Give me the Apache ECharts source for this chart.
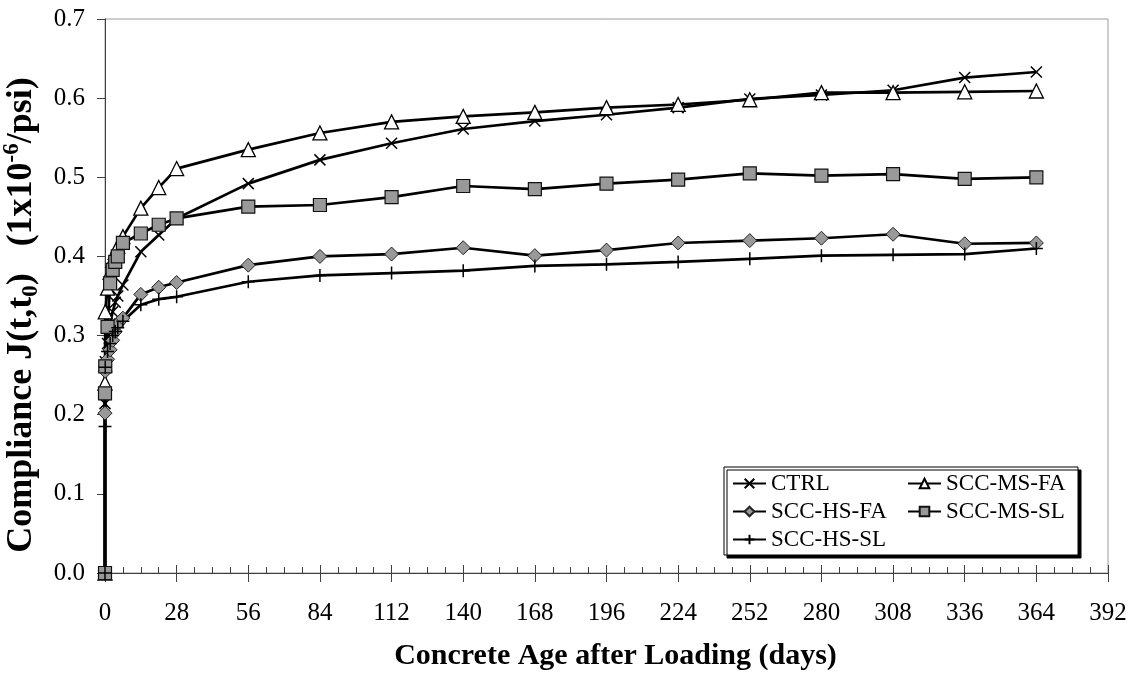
<!DOCTYPE html>
<html>
<head>
<meta charset="utf-8">
<script src="https://cdn.jsdelivr.net/npm/echarts@6/dist/echarts.min.js"></script>
<style>
  html, body { margin: 0; padding: 0; background: #fff; }
  #chart { width: 1141px; height: 683px; }
</style>
</head>
<body>
<div id="chart"></div>
<script>
// Age after loading (days) at each reading
const days = [0, 0, 0.1, 1, 2, 3, 4, 5, 7, 14, 21, 28, 56, 84, 112, 140, 168, 196, 224, 252, 280, 308, 336, 364];

// Compliance J(t,t0), 1e-6 / psi
const ctrl    = [0, 0.214, 0.267, 0.290, 0.315, 0.330, 0.342, 0.350, 0.364, 0.406, 0.427, 0.448, 0.492, 0.522, 0.543, 0.561, 0.571, 0.579, 0.588, 0.599, 0.604, 0.610, 0.626, 0.633];
const sccMsFa = [0, 0.240, 0.330, 0.360, 0.380, 0.395, 0.405, 0.413, 0.425, 0.461, 0.487, 0.511, 0.535, 0.556, 0.570, 0.577, 0.582, 0.588, 0.592, 0.598, 0.607, 0.607, 0.608, 0.609];
const sccHsFa = [0, 0.202, 0.255, 0.270, 0.282, 0.294, 0.305, 0.315, 0.322, 0.352, 0.361, 0.367, 0.389, 0.400, 0.403, 0.411, 0.401, 0.408, 0.417, 0.420, 0.423, 0.428, 0.416, 0.417];
const sccMsSl = [0, 0.227, 0.261, 0.311, 0.366, 0.383, 0.393, 0.400, 0.417, 0.429, 0.440, 0.448, 0.463, 0.465, 0.475, 0.489, 0.485, 0.492, 0.497, 0.505, 0.502, 0.504, 0.498, 0.500];
const sccHsSl = [0, 0.185, 0.260, 0.280, 0.290, 0.300, 0.305, 0.310, 0.318, 0.339, 0.346, 0.349, 0.368, 0.376, 0.379, 0.382, 0.388, 0.390, 0.393, 0.397, 0.401, 0.402, 0.403, 0.410];

const seriesNames = ['CTRL', 'SCC-MS-FA', 'SCC-HS-FA', 'SCC-MS-SL', 'SCC-HS-SL'];

const FONT = '"Liberation Serif", "Times New Roman", serif';
const AXIS_COLOR = '#404040';

const pairs = vals => days.map((d, i) => [d, vals[i]]);

const CROSS = 'path://M0,0L10,10M10,0L0,10';
const PLUS = 'path://M5,0L5,10M0,5L10,5';

function lineSeries(name, vals, symbol, size, item) {
  return {
    name: name,
    type: 'line',
    xAxisIndex: 0,
    data: pairs(vals),
    symbol: symbol,
    symbolSize: size,
    showAllSymbol: true,
    lineStyle: { color: '#000', width: 2.7 },
    itemStyle: item,
    emphasis: { disabled: true },
    animation: false
  };
}

// legend entries: left column a little wider so the right column lines up
const legendData = seriesNames.map((name, i) => ({
  name: name,
  textStyle: { width: i % 2 === 0 ? 131 : 124 }
}));

const chart = echarts.init(document.getElementById('chart'), null, { renderer: 'canvas' });

chart.setOption({
  backgroundColor: '#fff',
  animation: false,
  grid: {
    left: 105, right: 33, top: 19, bottom: 110,
    outerBoundsMode: 'none',
    containLabel: false,
    show: true, borderColor: '#9a9a9a', borderWidth: 1, backgroundColor: '#fff'
  },
  legend: {
    data: legendData,
    orient: 'horizontal',
    left: 724,
    top: 467,
    width: 360,
    padding: [5, 8, 4, 8],
    itemGap: 5,
    itemWidth: 33,
    itemHeight: 12,
    backgroundColor: '#fff',
    borderColor: '#000',
    borderWidth: 1,
    borderRadius: 0,
    shadowColor: '#000',
    shadowBlur: 0,
    shadowOffsetX: 3,
    shadowOffsetY: 3,
    selectedMode: false,
    textStyle: { fontFamily: FONT, fontSize: 23, color: '#000', width: 131, lineHeight: 23, overflow: 'truncate' }
  },
  xAxis: [
    {
      type: 'value', min: 0, max: 392, interval: 28,
      name: 'Concrete Age after Loading (days)',
      nameLocation: 'middle',
      nameGap: 68,
      nameTextStyle: { fontFamily: FONT, fontSize: 30, fontWeight: 'bold', color: '#000', padding: [0, 0, 0, 18] },
      axisLine: { show: true, onZero: false, lineStyle: { color: AXIS_COLOR, width: 1 } },
      axisTick: { show: true, inside: false, length: 9, lineStyle: { color: AXIS_COLOR, width: 1 } },
      axisLabel: { fontFamily: FONT, fontSize: 25, color: '#000', margin: 28 },
      splitLine: { show: false }
    },
    {
      // upper half of the ticks: major ticks cross the axis, minor ticks sit inside
      type: 'value', min: 0, max: 392, interval: 28, position: 'bottom',
      axisLine: { show: false },
      axisTick: { show: true, inside: true, length: 8, lineStyle: { color: AXIS_COLOR, width: 1 } },
      minorTick: { show: true, splitNumber: 4, length: 6, lineStyle: { color: AXIS_COLOR, width: 1 } },
      axisLabel: { show: false },
      splitLine: { show: false }
    }
  ],
  yAxis: {
    type: 'value', min: 0, max: 0.7, interval: 0.1,
    name: '{b|Compliance J(t,t}{sub|0}{b|)   (1x10}{sup|-6}{b|/psi)}',
    nameLocation: 'middle',
    nameRotate: 90,
    nameGap: 56,
    nameTextStyle: {
      padding: [0, 38, 0, 0],
      rich: {
        b: { fontFamily: FONT, fontSize: 36, fontWeight: 'bold', color: '#000', lineHeight: 42 },
        sub: { fontFamily: FONT, fontSize: 23, fontWeight: 'bold', color: '#000', verticalAlign: 'bottom', lineHeight: 42 },
        sup: { fontFamily: FONT, fontSize: 23, fontWeight: 'bold', color: '#000', verticalAlign: 'top', lineHeight: 42 }
      }
    },
    axisLine: { show: true, onZero: false, lineStyle: { color: AXIS_COLOR, width: 1 } },
    axisTick: { show: true, inside: false, length: 8, lineStyle: { color: AXIS_COLOR, width: 1 } },
    axisLabel: { fontFamily: FONT, fontSize: 25, color: '#000', margin: 20, formatter: v => v.toFixed(1) },
    splitLine: { show: false }
  },
  series: [
    lineSeries('CTRL', ctrl, CROSS, 11, { color: '#000', borderColor: '#000', borderWidth: 1.5 }),
    lineSeries('SCC-MS-FA', sccMsFa, 'triangle', 14, { color: '#fff', borderColor: '#000', borderWidth: 1.3 }),
    lineSeries('SCC-HS-FA', sccHsFa, 'diamond', 14, { color: '#999', borderColor: '#222', borderWidth: 1 }),
    lineSeries('SCC-MS-SL', sccMsSl, 'rect', 13, { color: '#999', borderColor: '#111', borderWidth: 1.2 }),
    lineSeries('SCC-HS-SL', sccHsSl, PLUS, 13, { color: '#000', borderColor: '#000', borderWidth: 1.5 })
  ]
});
</script>
</body>
</html>
